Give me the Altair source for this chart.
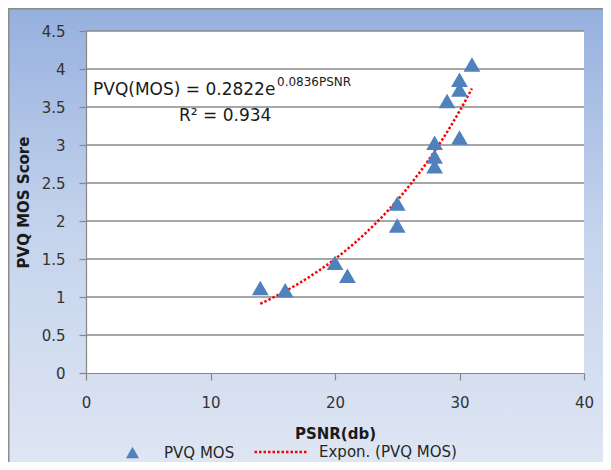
import altair as alt
import pandas as pd

# ---- data ----
psnr = [14, 16, 20, 21, 25, 25, 28, 28, 28, 29, 30, 30, 30, 31]
mos = [1.12, 1.09, 1.45, 1.28, 2.23, 1.94, 3.03, 2.85, 2.72, 3.58, 3.10, 3.73, 3.86, 4.06]
series_names = ["PVQ MOS", "Expon. (PVQ MOS)"]
x_ticks = [0, 10, 20, 30, 40]
y_ticks = [0, 0.5, 1, 1.5, 2, 2.5, 3, 3.5, 4, 4.5]
grid_values = [0.5, 1, 1.5, 2, 2.5, 3, 3.5, 4, 4.5]
fit_extent = [14, 31]
equation_main = "PVQ(MOS) = 0.2822e"
equation_exp = "0.0836PSNR"
r2_text = "R\u00b2 = 0.934"
x_title = "PSNR(db)"
y_title = "PVQ MOS Score"

W, H = 498, 342
FONT = "DejaVu Sans"
BLUE = "#4F81BD"
RED = "#ff0000"
GRID = "#8a8a8a"

df = pd.DataFrame({"psnr": psnr, "mos": mos, "series": series_names[0]})
one = pd.DataFrame({"k": [0]})
grid_df = pd.DataFrame({"g": grid_values})

x_scale = alt.Scale(domain=[0, 40], nice=False, zero=False)
y_scale = alt.Scale(domain=[0, 4.5], nice=False, zero=False)

x_axis = alt.Axis(values=x_ticks, title=x_title, labelPadding=15, zindex=1,
                  labelFlush=False, titleX=W / 2, titleY=60, titleBaseline="middle")
y_axis = alt.Axis(values=y_ticks, title=y_title, labelPadding=14, zindex=1,
                  labelFlush=False, format="~g", titleX=-63, titleY=H / 2,
                  titleAngle=270, titleBaseline="middle", titleAlign="center")

bg = alt.Chart(one).mark_rect(
    fill=alt.Gradient(
        gradient="linear",
        stops=[
            alt.GradientStop(color="#96b0de", offset=0),
            alt.GradientStop(color="#c4d3ec", offset=0.45),
            alt.GradientStop(color="#e2e8f4", offset=1),
        ],
        x1=0, x2=0, y1=0, y2=1,
    ),
    stroke="#8c8c8c",
    strokeWidth=3,
).encode(x=alt.value(-78), x2=alt.value(W + 40), y=alt.value(-23), y2=alt.value(H + 120))

plotbg = alt.Chart(one).mark_rect(fill="white").encode(
    x=alt.value(0), x2=alt.value(W), y=alt.value(0), y2=alt.value(H)
)

grid = alt.Chart(grid_df).mark_rule(color=GRID, strokeWidth=1.4).encode(
    y=alt.Y("g:Q", scale=y_scale, axis=y_axis, title=y_title),
    x=alt.value(0),
    x2=alt.value(W),
)

# Excel-style exponential trendline: least squares of ln(y) on x
seq_expr = "sequence({lo}, {hi} + 0.1, 0.25)".format(lo=fit_extent[0], hi=fit_extent[1])
trend = (
    alt.Chart(df)
    .transform_calculate(ly="log(datum.mos)")
    .transform_regression("psnr", "ly", method="linear", params=True)
    .transform_calculate(xs=seq_expr)
    .transform_flatten(["xs"])
    .transform_calculate(
        fit_x="datum.xs",
        fit_y="exp(datum.coef[0] + datum.coef[1] * datum.xs)",
        series="'" + series_names[1] + "'",
    )
    .mark_line(color=RED, strokeWidth=2.5, strokeCap="butt")
    .encode(
        x=alt.X("fit_x:Q", scale=x_scale, axis=x_axis, title=x_title),
        y=alt.Y("fit_y:Q", scale=y_scale, axis=y_axis, title=y_title),
        strokeDash=alt.StrokeDash(
            "series:N",
            scale=alt.Scale(domain=[series_names[1]], range=[[2.5, 2]]),
            legend=alt.Legend(
                title=None,
                orient="none",
                legendX=167,
                legendY=393,
                symbolType="stroke",
                symbolSize=2809,
                symbolStrokeColor=RED,
                symbolStrokeWidth=2.5,
                symbolDash=[2.5, 2],
                labelOffset=10,
                padding=0,
            ),
        ),
    )
)

points = alt.Chart(df).mark_point(
    shape="triangle-up", filled=True, size=280, opacity=1
).encode(
    x=alt.X("psnr:Q", scale=x_scale, axis=x_axis, title=x_title),
    y=alt.Y("mos:Q", scale=y_scale, axis=y_axis, title=y_title),
    color=alt.Color(
        "series:N",
        scale=alt.Scale(domain=[series_names[0]], range=[BLUE]),
        legend=alt.Legend(
            title=None,
            orient="none",
            legendX=39,
            legendY=414,
            symbolType="triangle-up",
            symbolSize=170,
            labelOffset=24,
            padding=0,
        ),
    ),
)

eq1 = alt.Chart(one).mark_text(
    text=equation_main, align="left", baseline="alphabetic",
    fontSize=17, font=FONT, color="#1a1a1a",
).encode(x=alt.value(7), y=alt.value(64))

eq2 = alt.Chart(one).mark_text(
    text=equation_exp, align="left", baseline="alphabetic",
    fontSize=12, font=FONT, color="#1a1a1a",
).encode(x=alt.value(191), y=alt.value(55))

eq3 = alt.Chart(one).mark_text(
    text=r2_text, align="left", baseline="alphabetic",
    fontSize=17, font=FONT, color="#1a1a1a",
).encode(x=alt.value(93), y=alt.value(90))

chart = (
    alt.layer(bg, plotbg, grid, trend, points, eq1, eq2, eq3)
    .properties(
        width=W,
        height=H,
        autosize=alt.AutoSizeParams(type="none"),
        padding={"left": 78, "top": 23, "right": 19, "bottom": 89},
    )
    .configure_view(stroke=None)
    .configure_axis(
        grid=False,
        domainColor="#868686",
        domainWidth=1.2,
        tickColor="#868686",
        tickWidth=1.2,
        tickSize=7,
        labelFont=FONT,
        labelFontSize=15,
        labelColor="#333333",
        titleFont=FONT,
        titleFontSize=15,
        titleFontWeight="bold",
        titleColor="#1a1a1a",
    )
    .configure_legend(
        labelFont=FONT,
        labelFontSize=15,
        labelColor="#262626",
    )
)

chart.save("out.html", embed_options={"renderer": "svg", "actions": False})
